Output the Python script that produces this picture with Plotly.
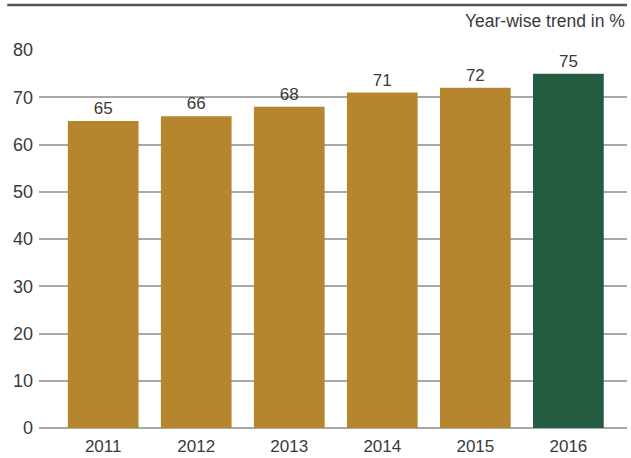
import plotly.graph_objects as go

# Year-wise trend values (%)
years = ["2011", "2012", "2013", "2014", "2015", "2016"]
values = [65, 66, 68, 71, 72, 75]
bar_colors = ["#B5862E", "#B5862E", "#B5862E", "#B5862E", "#B5862E", "#235C40"]
y_ticks = [0, 10, 20, 30, 40, 50, 60, 70, 80]

FONT = "Liberation Sans, Arial, sans-serif"
TEXT = "#3a3a3a"

fig = go.Figure(
    go.Bar(
        x=years,
        y=values,
        marker=dict(color=bar_colors, line=dict(width=0)),
        width=0.76,
        text=[str(v) for v in values],
        textposition="outside",
        textfont=dict(family=FONT, size=17, color=TEXT),
        cliponaxis=False,
        hoverinfo="skip",
    )
)

fig.update_layout(
    width=631,
    height=458,
    margin=dict(l=39, r=4, t=50, b=30),
    paper_bgcolor="white",
    plot_bgcolor="white",
    showlegend=False,
    font=dict(family=FONT, color=TEXT),
    xaxis=dict(
        type="category",
        range=[-0.69, 5.63],
        showgrid=False,
        showline=False,
        ticks="",
        tickfont=dict(family=FONT, size=17, color=TEXT),
        ticklabelstandoff=6,
        automargin=False,
    ),
    yaxis=dict(
        range=[0, 80],
        tickvals=y_ticks,
        showgrid=True,
        gridcolor="#A8A8A8",
        gridwidth=1.5,
        zeroline=True,
        zerolinecolor="#A8A8A8",
        zerolinewidth=1.5,
        showline=False,
        ticks="",
        tickfont=dict(family=FONT, size=18, color=TEXT),
        ticklabelstandoff=5,
        automargin=False,
    ),
    shapes=[
        dict(
            type="line",
            xref="paper",
            yref="paper",
            x0=-0.054,
            x1=1.0,
            y0=1.119,
            y1=1.119,
            line=dict(color="#555555", width=2.5),
            layer="above",
        )
    ],
    annotations=[
        dict(
            text="Year-wise trend in %",
            xref="paper",
            yref="paper",
            x=1.0,
            y=1.076,
            xanchor="right",
            yanchor="middle",
            showarrow=False,
            font=dict(family=FONT, size=17.5, color=TEXT),
        )
    ],
    bargap=0.24,
)

fig.write_html("out.html")
